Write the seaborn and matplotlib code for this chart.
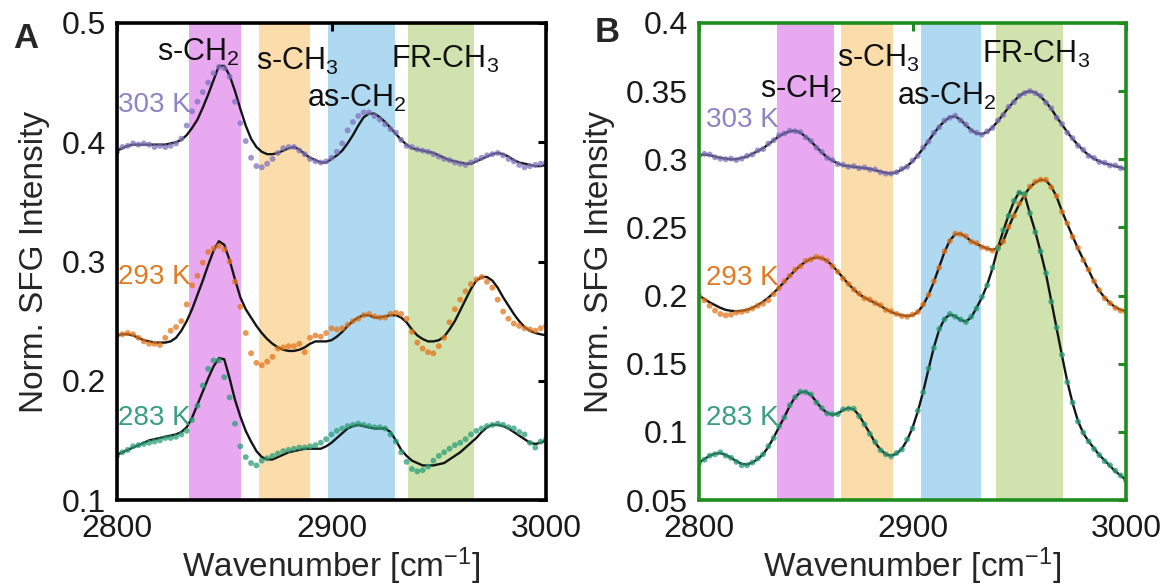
import numpy as np
import pandas as pd
import matplotlib
matplotlib.use("Agg")
import matplotlib.pyplot as plt
import seaborn as sns

# ---------------------------------------------------------------- data
wavenumber = np.arange(2800.0, 3000.1, 2.5)   # cm^-1 sampling grid
temps = ["303 K", "293 K", "283 K"]

# Panel A: measured points and fitted spectra
a_pts_303 = [0.392, 0.396, 0.397, 0.399, 0.398, 0.399, 0.398, 0.396, 0.397, 0.396,
             0.397, 0.399, 0.403, 0.414, 0.426, 0.434, 0.442, 0.450, 0.458, 0.463,
             0.462, 0.455, 0.434, 0.416, 0.401, 0.387, 0.380, 0.379, 0.382, 0.386,
             0.391, 0.395, 0.396, 0.396, 0.393, 0.390, 0.386, 0.384, 0.383, 0.384,
             0.387, 0.392, 0.399, 0.410, 0.417, 0.422, 0.425, 0.425, 0.422, 0.419,
             0.415, 0.411, 0.408, 0.402, 0.397, 0.396, 0.394, 0.393, 0.392, 0.390,
             0.388, 0.386, 0.385, 0.383, 0.382, 0.381, 0.383, 0.385, 0.387, 0.389,
             0.390, 0.391, 0.389, 0.386, 0.384, 0.381, 0.379, 0.380, 0.381, 0.382,
             0.383]
a_fit_303 = [0.393, 0.395, 0.397, 0.398, 0.398, 0.398, 0.398, 0.398, 0.398, 0.398,
             0.399, 0.400, 0.402, 0.406, 0.412, 0.419, 0.429, 0.440, 0.452, 0.464,
             0.464, 0.456, 0.443, 0.428, 0.414, 0.403, 0.396, 0.392, 0.390, 0.390,
             0.391, 0.393, 0.395, 0.396, 0.394, 0.390, 0.387, 0.385, 0.383, 0.383,
             0.386, 0.389, 0.393, 0.399, 0.406, 0.414, 0.421, 0.424, 0.424, 0.421,
             0.417, 0.412, 0.407, 0.402, 0.398, 0.395, 0.394, 0.393, 0.392, 0.391,
             0.389, 0.387, 0.385, 0.384, 0.383, 0.382, 0.382, 0.384, 0.386, 0.388,
             0.390, 0.391, 0.390, 0.388, 0.385, 0.383, 0.382, 0.381, 0.380, 0.380,
             0.381]
a_pts_293 = [0.238, 0.239, 0.240, 0.239, 0.236, 0.233, 0.231, 0.231, 0.230, 0.236,
             0.242, 0.245, 0.250, 0.264, 0.280, 0.288, 0.299, 0.308, 0.311, 0.313,
             0.310, 0.300, 0.283, 0.262, 0.240, 0.223, 0.215, 0.213, 0.216, 0.220,
             0.227, 0.228, 0.229, 0.229, 0.231, 0.224, 0.236, 0.238, 0.237, 0.240,
             0.244, 0.243, 0.244, 0.247, 0.250, 0.252, 0.255, 0.256, 0.254, 0.253,
             0.253, 0.256, 0.257, 0.256, 0.252, 0.241, 0.232, 0.227, 0.224, 0.223,
             0.229, 0.236, 0.249, 0.260, 0.268, 0.275, 0.281, 0.285, 0.287, 0.283,
             0.278, 0.268, 0.258, 0.252, 0.248, 0.246, 0.244, 0.243, 0.242, 0.244,
             0.246]
a_fit_293 = [0.238, 0.239, 0.239, 0.238, 0.236, 0.234, 0.233, 0.232, 0.232, 0.232,
             0.233, 0.236, 0.242, 0.250, 0.260, 0.272, 0.284, 0.297, 0.309, 0.317,
             0.314, 0.301, 0.285, 0.270, 0.260, 0.253, 0.246, 0.240, 0.235, 0.231,
             0.228, 0.226, 0.225, 0.225, 0.226, 0.228, 0.231, 0.233, 0.233, 0.233,
             0.234, 0.237, 0.241, 0.246, 0.250, 0.253, 0.255, 0.255, 0.253, 0.253,
             0.254, 0.255, 0.255, 0.253, 0.249, 0.243, 0.238, 0.235, 0.233, 0.233,
             0.234, 0.237, 0.243, 0.250, 0.259, 0.268, 0.277, 0.284, 0.287, 0.287,
             0.284, 0.278, 0.270, 0.263, 0.256, 0.250, 0.245, 0.242, 0.240, 0.239,
             0.238]
a_pts_283 = [0.137, 0.140, 0.142, 0.145, 0.146, 0.147, 0.148, 0.149, 0.150, 0.152,
             0.152, 0.153, 0.155, 0.158, 0.167, 0.179, 0.196, 0.210, 0.217, 0.217,
             0.203, 0.186, 0.164, 0.145, 0.136, 0.131, 0.129, 0.133, 0.135, 0.137,
             0.139, 0.141, 0.142, 0.143, 0.144, 0.144, 0.145, 0.146, 0.148, 0.151,
             0.155, 0.158, 0.160, 0.162, 0.163, 0.164, 0.163, 0.162, 0.161, 0.161,
             0.160, 0.155, 0.149, 0.140, 0.132, 0.126, 0.124, 0.125, 0.128, 0.133,
             0.137, 0.140, 0.143, 0.146, 0.148, 0.151, 0.155, 0.158, 0.160, 0.162,
             0.163, 0.164, 0.163, 0.161, 0.160, 0.157, 0.155, 0.148, 0.144, 0.149,
             0.151]
a_fit_283 = [0.138, 0.140, 0.142, 0.144, 0.146, 0.148, 0.150, 0.151, 0.152, 0.153,
             0.154, 0.155, 0.157, 0.161, 0.169, 0.180, 0.191, 0.202, 0.212, 0.219,
             0.218, 0.202, 0.184, 0.170, 0.158, 0.149, 0.141, 0.136, 0.134, 0.134,
             0.136, 0.138, 0.140, 0.141, 0.142, 0.143, 0.143, 0.143, 0.143, 0.145,
             0.148, 0.152, 0.156, 0.160, 0.162, 0.163, 0.162, 0.161, 0.160, 0.160,
             0.160, 0.157, 0.150, 0.142, 0.137, 0.133, 0.131, 0.129, 0.129, 0.129,
             0.130, 0.131, 0.134, 0.137, 0.140, 0.144, 0.148, 0.152, 0.157, 0.161,
             0.163, 0.163, 0.162, 0.160, 0.157, 0.154, 0.151, 0.148, 0.147, 0.148,
             0.150]

# Panel B: measured points and fitted spectra
b_pts_303 = [0.3025, 0.304, 0.3035, 0.3015, 0.3005, 0.300, 0.3005, 0.2995, 0.3005, 0.3025,
             0.3035, 0.3065, 0.3075, 0.3115, 0.314, 0.3175, 0.319, 0.321, 0.3205, 0.320,
             0.316, 0.3135, 0.3085, 0.3055, 0.301, 0.2995, 0.2965, 0.296, 0.2945, 0.295,
             0.2935, 0.294, 0.2925, 0.2925, 0.2905, 0.2895, 0.2895, 0.2905, 0.293, 0.2945,
             0.299, 0.3025, 0.3085, 0.313, 0.3195, 0.3235, 0.3285, 0.3305, 0.332, 0.3285,
             0.3255, 0.321, 0.3195, 0.318, 0.3205, 0.323, 0.3285, 0.3325, 0.3385, 0.342,
             0.3465, 0.3485, 0.350, 0.3485, 0.3465, 0.3415, 0.3375, 0.3305, 0.326, 0.3195,
             0.3155, 0.310, 0.307, 0.3025, 0.301, 0.298, 0.2975, 0.2955, 0.2955, 0.2935,
             0.293]
b_fit_303 = [0.303, 0.3035, 0.303, 0.302, 0.301, 0.3005, 0.300, 0.300, 0.301, 0.302,
             0.304, 0.306, 0.308, 0.311, 0.314, 0.317, 0.319, 0.3205, 0.321, 0.3195,
             0.3165, 0.313, 0.309, 0.305, 0.3015, 0.299, 0.297, 0.2955, 0.295, 0.2945,
             0.294, 0.2935, 0.293, 0.292, 0.291, 0.290, 0.2895, 0.2905, 0.2925, 0.295,
             0.2985, 0.303, 0.308, 0.3135, 0.319, 0.324, 0.328, 0.331, 0.3315, 0.329,
             0.325, 0.3215, 0.319, 0.3185, 0.320, 0.3235, 0.328, 0.333, 0.338, 0.3425,
             0.3465, 0.349, 0.350, 0.349, 0.346, 0.342, 0.337, 0.331, 0.3255, 0.320,
             0.315, 0.3105, 0.3065, 0.303, 0.3005, 0.2985, 0.297, 0.296, 0.295, 0.294,
             0.2925]
b_pts_293 = [0.1995, 0.1965, 0.1925, 0.189, 0.1865, 0.1855, 0.186, 0.1875, 0.188, 0.189,
             0.1905, 0.1925, 0.194, 0.1965, 0.201, 0.2055, 0.2105, 0.2145, 0.219, 0.2215,
             0.2255, 0.2265, 0.2285, 0.2275, 0.2255, 0.2215, 0.2175, 0.2125, 0.2085, 0.2045,
             0.2015, 0.198, 0.197, 0.1945, 0.193, 0.1895, 0.1885, 0.1865, 0.185, 0.1845,
             0.186, 0.188, 0.1935, 0.2005, 0.2105, 0.2205, 0.2325, 0.240, 0.2455, 0.245,
             0.2435, 0.2395, 0.2385, 0.2355, 0.2345, 0.233, 0.2355, 0.2395, 0.2505, 0.2585,
             0.2675, 0.2735, 0.280, 0.2835, 0.285, 0.285, 0.2795, 0.273, 0.2615, 0.253,
             0.243, 0.235, 0.226, 0.219, 0.2105, 0.204, 0.198, 0.1945, 0.191, 0.189,
             0.188]
b_fit_293 = [0.200, 0.1975, 0.195, 0.193, 0.191, 0.1895, 0.1888, 0.1885, 0.1888, 0.1895,
             0.191, 0.193, 0.1955, 0.1985, 0.202, 0.206, 0.210, 0.2145, 0.2185, 0.222,
             0.225, 0.227, 0.228, 0.2275, 0.2255, 0.222, 0.2175, 0.213, 0.2085, 0.2045,
             0.201, 0.1985, 0.1965, 0.1945, 0.1925, 0.190, 0.188, 0.1865, 0.1855, 0.185,
             0.1855, 0.188, 0.193, 0.2005, 0.210, 0.221, 0.232, 0.2405, 0.245, 0.2455,
             0.243, 0.240, 0.238, 0.236, 0.2345, 0.2335, 0.235, 0.240, 0.250, 0.259,
             0.267, 0.274, 0.2795, 0.283, 0.285, 0.2845, 0.280, 0.2725, 0.262, 0.2525,
             0.2435, 0.2345, 0.2265, 0.2185, 0.2105, 0.2035, 0.1985, 0.1945, 0.1915, 0.1895,
             0.1885]
b_pts_283 = [0.077, 0.0795, 0.0825, 0.0835, 0.085, 0.0825, 0.081, 0.078, 0.0755, 0.0755,
             0.0775, 0.0805, 0.0835, 0.0895, 0.0955, 0.104, 0.1105, 0.1195, 0.1255, 0.1295,
             0.129, 0.1275, 0.1215, 0.1175, 0.1135, 0.113, 0.113, 0.1165, 0.117, 0.117,
             0.1115, 0.1055, 0.0985, 0.0925, 0.0865, 0.0835, 0.082, 0.0845, 0.087, 0.0945,
             0.1025, 0.1155, 0.129, 0.1465, 0.1615, 0.1755, 0.1825, 0.1865, 0.1845, 0.1825,
             0.1805, 0.1845, 0.1905, 0.199, 0.2075, 0.2205, 0.2345, 0.248, 0.2585, 0.2695,
             0.2755, 0.2745, 0.2605, 0.2465, 0.2325, 0.2165, 0.1955, 0.1765, 0.1565, 0.1365,
             0.1215, 0.1075, 0.0995, 0.093, 0.0875, 0.083, 0.0785, 0.0755, 0.0715, 0.068,
             0.0645]
b_fit_283 = [0.0775, 0.080, 0.0825, 0.084, 0.0845, 0.083, 0.081, 0.0785, 0.0765, 0.076,
             0.0775, 0.080, 0.0835, 0.089, 0.096, 0.1035, 0.111, 0.119, 0.1255, 0.129,
             0.1295, 0.127, 0.122, 0.117, 0.114, 0.1125, 0.1135, 0.116, 0.1175, 0.1165,
             0.112, 0.1055, 0.099, 0.092, 0.087, 0.0835, 0.0825, 0.084, 0.0875, 0.094,
             0.103, 0.115, 0.1295, 0.146, 0.162, 0.175, 0.183, 0.186, 0.185, 0.182,
             0.181, 0.184, 0.191, 0.1985, 0.208, 0.220, 0.235, 0.2475, 0.259, 0.269,
             0.276, 0.274, 0.260, 0.247, 0.232, 0.216, 0.196, 0.176, 0.156, 0.137,
             0.121, 0.108, 0.099, 0.093, 0.088, 0.083, 0.079, 0.075, 0.071, 0.068,
             0.0645]

# vibrational mode bands (cm^-1)
modes = ["s-CH$_2$", "s-CH$_3$", "as-CH$_2$", "FR-CH$_3$"]
bands_a = [(2833.5, 2858.0), (2866.0, 2890.0), (2898.5, 2929.5), (2935.5, 2966.5)]
bands_b = [(2836.5, 2863.0), (2866.5, 2891.0), (2904.0, 2932.0), (2939.0, 2970.5)]
band_colors = ["#e8a9f1", "#fbdcab", "#afd8f1", "#d0e2ad"]

# ---------------------------------------------------------------- style
sns.set_theme(style="white")
plt.rcParams["font.family"] = ["Liberation Sans", "DejaVu Sans"]
plt.rcParams["mathtext.default"] = "regular"

dot_colors = {"303 K": "#7f73be", "293 K": "#e2761c", "283 K": "#2b9e78"}
label_colors = {"303 K": "#8d84c6", "293 K": "#e07a24", "283 K": "#3a9e80"}


def frame(pts, fits):
    rows_p, rows_f = [], []
    for t, p, f in zip(temps, pts, fits):
        assert len(p) == len(wavenumber) and len(f) == len(wavenumber)
        rows_p.append(pd.DataFrame({"wn": wavenumber, "val": p, "temp": t}))
        rows_f.append(pd.DataFrame({"wn": wavenumber, "val": f, "temp": t}))
    return pd.concat(rows_p, ignore_index=True), pd.concat(rows_f, ignore_index=True)


def draw_panel(ax, pts, fits, bands, ylim, yticks, ylabels, frame_color,
               mode_pos, temp_pos):
    for (lo, hi), c in zip(bands, band_colors):
        ax.axvspan(lo, hi, color=c, lw=0, zorder=0)
    df_p, df_f = frame(pts, fits)
    sns.lineplot(data=df_f, x="wn", y="val", units="temp", estimator=None,
                 color="#151515", lw=1.7, ax=ax, legend=False, zorder=2)
    sns.scatterplot(data=df_p, x="wn", y="val", hue="temp", palette=dot_colors,
                    s=18, alpha=0.75, edgecolor="none", linewidth=0,
                    ax=ax, legend=False, zorder=3)
    ax.set_xlim(2800, 3000)
    ax.set_ylim(*ylim)
    ax.set_xticks([2800, 2900, 3000])
    ax.set_xticklabels(["2800", "2900", "3000"])
    ax.set_yticks(yticks)
    ax.set_yticklabels(ylabels)
    ax.set_xlabel("Wavenumber [cm$^{-1}$]", fontsize=24, labelpad=1)
    ax.set_ylabel("Norm. SFG Intensity", fontsize=24, labelpad=8)
    ax.tick_params(direction="in", length=6, width=2.2, top=True, right=True,
                   labelsize=23, color=frame_color, labelcolor="#1a1a1a")
    ax.tick_params(axis="x", pad=10)
    ax.tick_params(axis="y", pad=8)
    for sp in ax.spines.values():
        sp.set_color(frame_color)
        sp.set_linewidth(2.6)
        sp.set_zorder(5)
    for name, (x, y) in zip(modes, mode_pos):
        ax.text(x, y, name, ha="center", va="baseline", fontsize=22,
                color="#111111", zorder=6)
    for t, (x, y) in zip(temps, temp_pos):
        ax.text(x, y, t, ha="left", va="center", fontsize=20,
                color=label_colors[t], zorder=6)


fig = plt.figure(figsize=(11.64, 5.87), dpi=100)
W, H = 1164, 587
axA = fig.add_axes([117 / W, 87 / H, 429 / W, 477 / H])
axB = fig.add_axes([699 / W, 87 / H, 427 / W, 477 / H])

draw_panel(axA, [a_pts_303, a_pts_293, a_pts_283],
           [a_fit_303, a_fit_293, a_fit_283], bands_a,
           (0.1, 0.5), [0.1, 0.2, 0.3, 0.4, 0.5],
           ["0.1", "0.2", "0.3", "0.4", "0.5"], "black",
           [(2838, 0.468), (2884, 0.461), (2912, 0.430), (2953, 0.462)],
           [(2800.5, 0.431), (2800.5, 0.287), (2800.5, 0.169)])

draw_panel(axB, [b_pts_303, b_pts_293, b_pts_283],
           [b_fit_303, b_fit_293, b_fit_283], bands_b,
           (0.05, 0.4), [0.05, 0.1, 0.15, 0.2, 0.25, 0.3, 0.35, 0.4],
           ["0.05", "0.1", "0.15", "0.2", "0.25", "0.3", "0.35", "0.4"],
           "#1f8c1f",
           [(2848, 0.345), (2884, 0.368), (2916, 0.340), (2958, 0.371)],
           [(2803.5, 0.329), (2803.5, 0.213), (2803.5, 0.110)])

fig.text(26 / W, 1 - 38 / H, "A", fontsize=25, fontweight="bold",
         ha="center", va="center")
fig.text(607 / W, 1 - 32 / H, "B", fontsize=25, fontweight="bold",
         ha="center", va="center")

fig.savefig("out.png", dpi=100)
